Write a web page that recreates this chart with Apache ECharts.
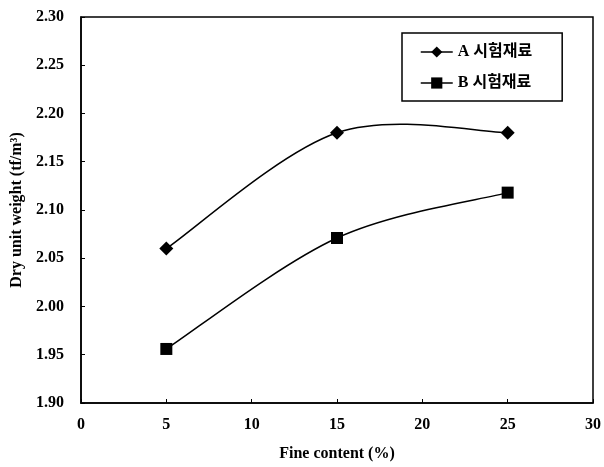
<!DOCTYPE html>
<html>
<head>
<meta charset="utf-8">
<script src="https://cdn.jsdelivr.net/npm/echarts@6/dist/echarts.min.js"></script>
<style>html,body{margin:0;padding:0;background:#fff}#c{width:604px;height:467px}</style>
</head>
<body>
<div id="c"></div>
<script>
var xValues = [5, 15, 25];
var seriesA = [2.06, 2.18, 2.18];
var seriesB = [1.956, 2.071, 2.118];
var nameA = 'A 시험재료';
var nameB = 'B 시험재료';
var xTitle = 'Fine content (%)';
var yTitle = 'Dry unit weight (tf/m³)';

var chart = echarts.init(document.getElementById('c'));
var serif = '"Liberation Serif","Times New Roman",serif';
function pts(ys){ return xValues.map(function(x,i){ return [x, ys[i]]; }); }

// Smooth (Catmull-Rom style) curve through the data, positioned via the axes' scales
function curveSeries(ys){
  return {
    type: 'custom', silent: true, z: 1,
    data: pts(ys),
    encode: { x: 0, y: 1 },
    renderItem: function(params, api){
      var i = params.dataIndex;
      var n = ys.length;
      if (i >= n - 1) return null;
      var c = function(k){ k = Math.max(0, Math.min(n - 1, k)); return api.coord([xValues[k], ys[k]]); };
      var p0 = c(i - 1), p1 = c(i), p2 = c(i + 1), p3 = c(i + 2);
      var t = 1 / 6;
      return {
        type: 'bezierCurve',
        shape: {
          x1: p1[0], y1: p1[1], x2: p2[0], y2: p2[1],
          cpx1: p1[0] + (p2[0] - p0[0]) * t, cpy1: p1[1] + (p2[1] - p0[1]) * t,
          cpx2: p2[0] - (p3[0] - p1[0]) * t, cpy2: p2[1] - (p3[1] - p1[1]) * t
        },
        style: { stroke: '#000', lineWidth: 1.5, fill: null }
      };
    }
  };
}

chart.setOption({
  animation: false,
  backgroundColor: '#fff',
  grid: { left: 81, right: 7, top: 17, bottom: 64, show: true, borderColor: '#000', borderWidth: 1.5, backgroundColor: 'transparent' },
  legend: {
    orient: 'vertical', left: 402, top: 33,
    padding: [11, 30, 10, 18], itemGap: 15, itemWidth: 32, itemHeight: 14,
    borderColor: '#000', borderWidth: 1.5, backgroundColor: '#fff',
    lineStyle: { opacity: 1, color: '#000', width: 1.5 },
    textStyle: { fontFamily: '"Liberation Serif","Noto Sans CJK KR",serif', fontWeight: 'bold', fontSize: 16, color: '#000' },
    data: [nameA, nameB]
  },
  xAxis: {
    type: 'value', min: 0, max: 30, interval: 5,
    name: xTitle, nameLocation: 'middle', nameGap: 43,
    nameTextStyle: { fontFamily: serif, fontWeight: 'bold', fontSize: 16, color: '#000' },
    axisLine: { lineStyle: { color: '#000', width: 1.5 } },
    axisTick: { inside: true, length: 4, lineStyle: { color: '#000' } },
    axisLabel: { fontFamily: serif, fontWeight: 'bold', fontSize: 16, color: '#000', margin: 14 },
    splitLine: { show: false }
  },
  yAxis: {
    type: 'value', min: 1.9, max: 2.3, interval: 0.05,
    name: yTitle, nameLocation: 'middle', nameGap: 56,
    nameTextStyle: { fontFamily: serif, fontWeight: 'bold', fontSize: 16, color: '#000' },
    axisLine: { show: true, lineStyle: { color: '#000', width: 1.5 } },
    axisTick: { show: true, inside: true, length: 4, lineStyle: { color: '#000' } },
    axisLabel: { fontFamily: serif, fontWeight: 'bold', fontSize: 16, color: '#000', margin: 17,
      formatter: function(v){ return v.toFixed(2); } },
    splitLine: { show: false }
  },
  series: [
    curveSeries(seriesA),
    curveSeries(seriesB),
    { name: nameA, type: 'line', data: pts(seriesA), symbol: 'diamond', symbolSize: 14, z: 3,
      itemStyle: { color: '#000' }, lineStyle: { color: '#000', width: 1.5, opacity: 0 } },
    { name: nameB, type: 'line', data: pts(seriesB), symbol: 'rect', symbolSize: 12, z: 3,
      itemStyle: { color: '#000' }, lineStyle: { color: '#000', width: 1.5, opacity: 0 } }
  ]
});
</script>
</body>
</html>
